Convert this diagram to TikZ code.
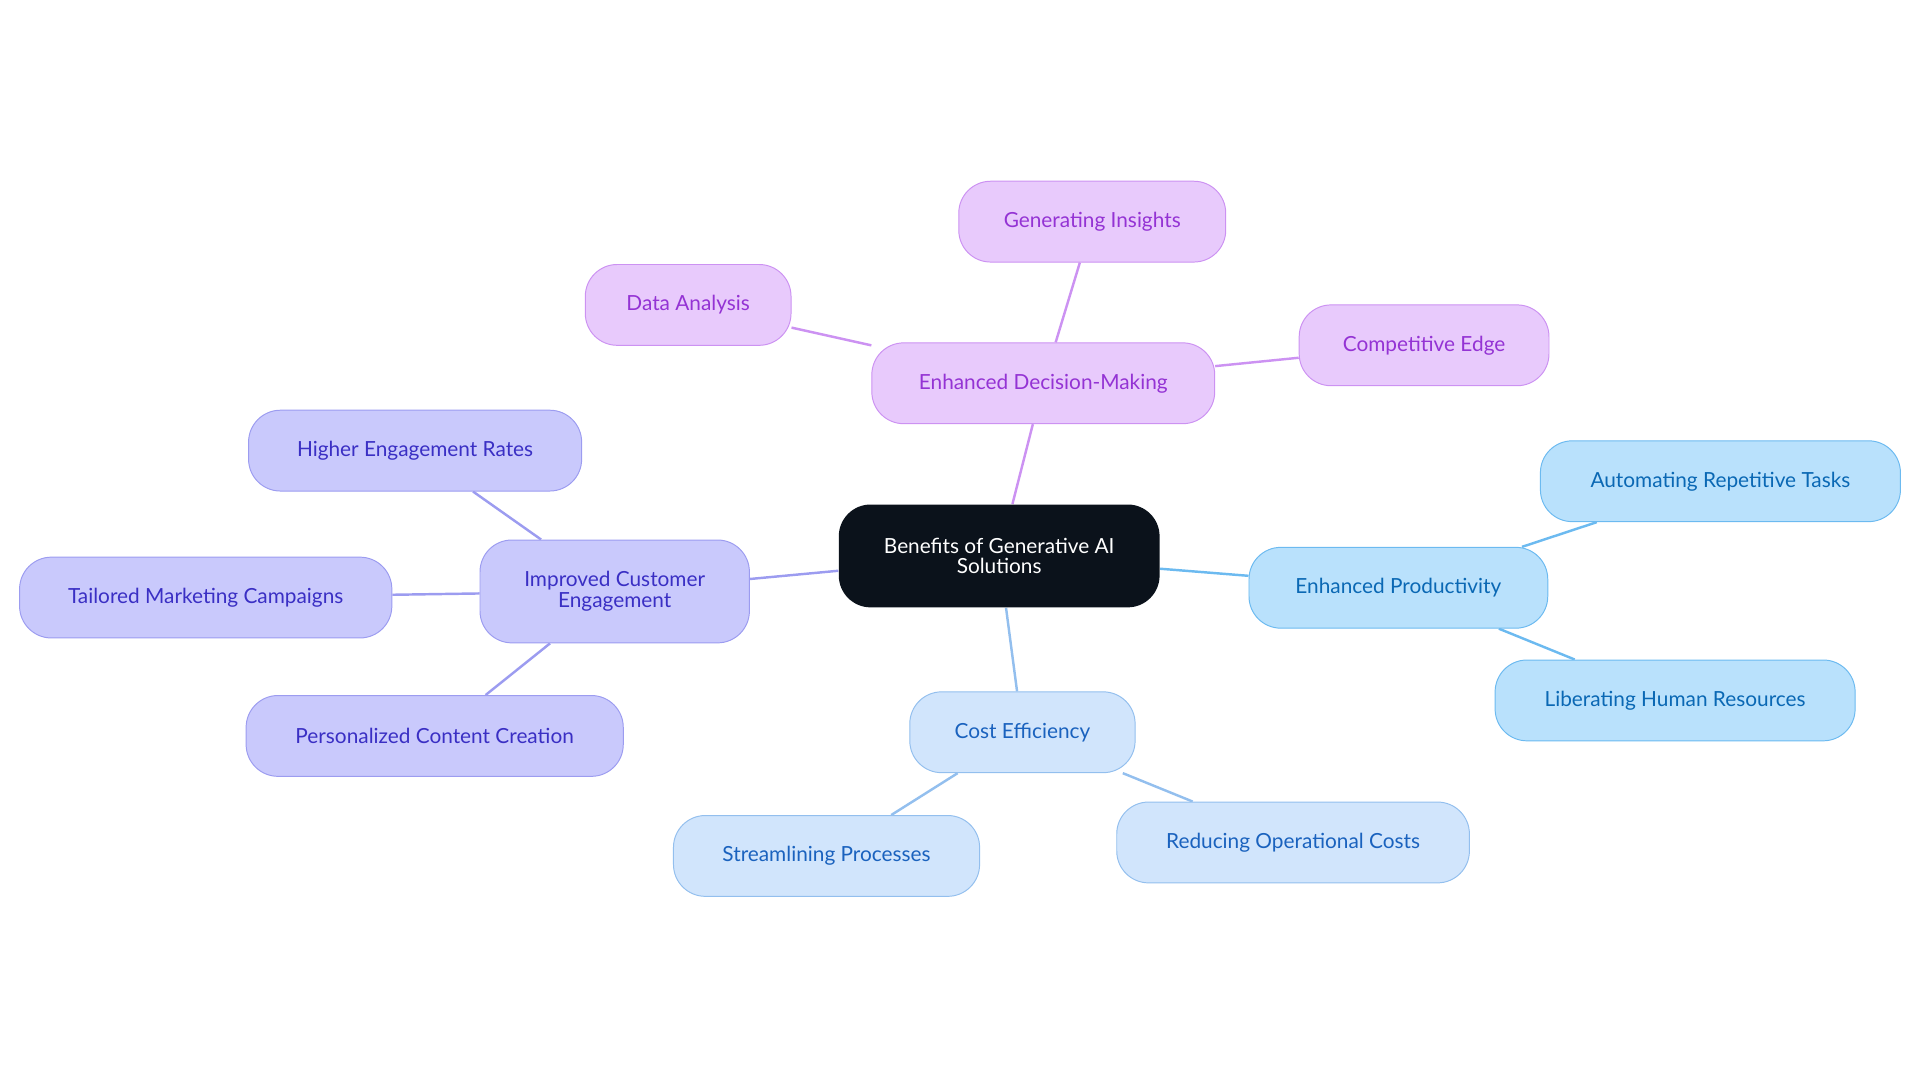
\documentclass[tikz,border=0pt]{standalone}
\usepackage{fontspec}
\setmainfont{Lato}
\usetikzlibrary{backgrounds}
\definecolor{rootc}{HTML}{0B121B}
\definecolor{pf}{HTML}{E8CAFC}\definecolor{pd}{HTML}{CC92F2}\definecolor{pt}{HTML}{9433D4}
\definecolor{vf}{HTML}{C9C9FC}\definecolor{vd}{HTML}{9C9CF0}\definecolor{vt}{HTML}{3A2FC4}
\definecolor{bf}{HTML}{B9E1FC}\definecolor{bd}{HTML}{6CBAF0}\definecolor{bt}{HTML}{0A68B4}
\definecolor{cf}{HTML}{D1E5FC}\definecolor{cd}{HTML}{93BFEE}\definecolor{ct}{HTML}{1A62BE}
\tikzset{x=1pt,y=-1pt,
 box/.style={rounded corners=26pt,minimum height=66pt,align=center,font=\fontsize{17}{17}\selectfont,line width=0.8pt},
 pbox/.style={box,fill=pf,draw=pd,text=pt},
 vbox/.style={box,fill=vf,draw=vd,text=vt},
 bbox/.style={box,fill=bf,draw=bd,text=bt},
 cbox/.style={box,fill=cf,draw=cd,text=ct},
 ln/.style={line width=2pt}}
\begin{document}
\begin{tikzpicture}
\useasboundingbox (0,0) rectangle (1568,884);
\node[box,fill=rootc,text=white,minimum width=262pt,minimum height=84pt] (r) at (816,454) {Benefits of Generative AI\\Solutions};
\node[pbox,minimum width=280pt] (d) at (852,313) {Enhanced Decision-Making};
\node[pbox,minimum width=218pt] (d1) at (892,181) {Generating Insights};
\node[pbox,minimum width=168pt] (d2) at (562,249) {Data Analysis};
\node[pbox,minimum width=204pt] (d3) at (1163,282) {Competitive Edge};
\node[vbox,minimum width=220pt,minimum height=84pt] (v) at (502,483) {Improved Customer\\Engagement};
\node[vbox,minimum width=272pt] (v1) at (339,368) {Higher Engagement Rates};
\node[vbox,minimum width=304pt] (v2) at (168,488) {Tailored Marketing Campaigns};
\node[vbox,minimum width=308pt] (v3) at (355,601) {Personalized Content Creation};
\node[bbox,minimum width=244pt] (b) at (1142,480) {Enhanced Productivity};
\node[bbox,minimum width=294pt] (b1) at (1405,393) {Automating Repetitive Tasks};
\node[bbox,minimum width=294pt] (b2) at (1368,572) {Liberating Human Resources};
\node[cbox,minimum width=184pt] (c) at (835,598) {Cost Efficiency};
\node[cbox,minimum width=250pt] (c1) at (675,699) {Streamlining Processes};
\node[cbox,minimum width=288pt] (c2) at (1056,688) {Reducing Operational Costs};
\begin{scope}[on background layer]
\draw[ln,pd] (r) -- (d); \draw[ln,pd] (d) -- (d1); \draw[ln,pd] (d) -- (d2); \draw[ln,pd] (d) -- (d3);
\draw[ln,vd] (r) -- (v); \draw[ln,vd] (v) -- (v1); \draw[ln,vd] (v) -- (v2); \draw[ln,vd] (v) -- (v3);
\draw[ln,bd] (r) -- (b); \draw[ln,bd] (b) -- (b1); \draw[ln,bd] (b) -- (b2);
\draw[ln,cd] (r) -- (c); \draw[ln,cd] (c) -- (c1); \draw[ln,cd] (c) -- (c2);
\end{scope}
\end{tikzpicture}
\end{document}
